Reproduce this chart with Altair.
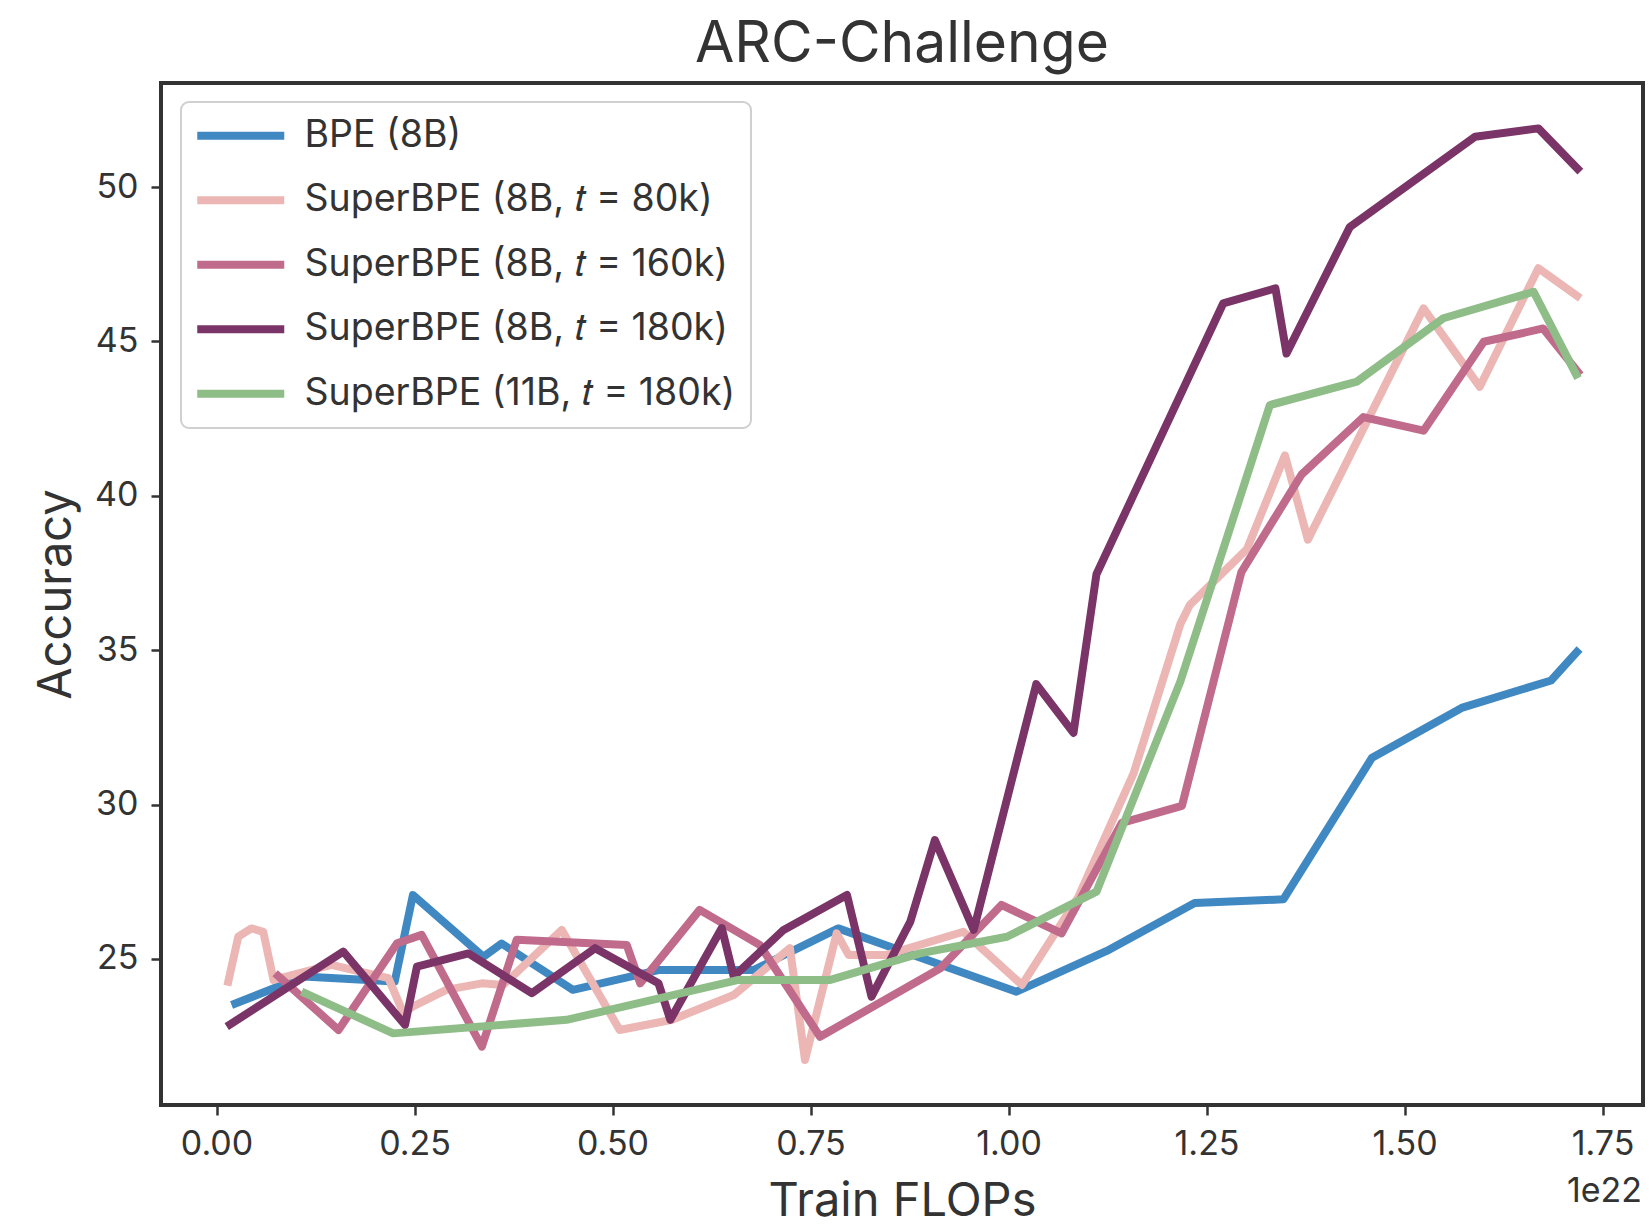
import altair as alt
import pandas as pd

series_names = [
    "BPE (8B)",
    "SuperBPE (8B, 𝑡 = 80k)",
    "SuperBPE (8B, 𝑡 = 160k)",
    "SuperBPE (8B, 𝑡 = 180k)",
    "SuperBPE (11B, 𝑡 = 180k)",
]
series_colors = ["#4088c2", "#ebb6b3", "#c06b8b", "#7a3467", "#8fbd88"]

bpe_x = [0.019, 0.11, 0.225, 0.248, 0.337, 0.36, 0.45, 0.558, 0.678, 0.785, 1.010, 1.124, 1.235, 1.347, 1.459, 1.572, 1.685, 1.721]
bpe_y = [23.51, 24.43, 24.27, 27.07, 25.07, 25.5, 24.0, 24.64, 24.64, 25.99, 23.94, 25.26, 26.81, 26.93, 31.52, 33.13, 34.02, 35.04]

sb80_x = [0.0137, 0.0275, 0.044, 0.059, 0.072, 0.145, 0.217, 0.236, 0.248, 0.29, 0.335, 0.362, 0.436, 0.509, 0.575, 0.653, 0.724, 0.743, 0.783, 0.798, 0.846, 0.943, 1.017, 1.088, 1.158, 1.217, 1.229, 1.301, 1.349, 1.378, 1.524, 1.595, 1.669, 1.722]
sb80_y = [24.14, 25.72, 25.99, 25.88, 24.32, 24.81, 24.38, 23.24, 23.46, 24.0, 24.21, 24.16, 25.94, 22.70, 23.03, 23.83, 25.35, 21.73, 25.83, 25.13, 25.13, 25.88, 24.16, 27.0, 31.02, 35.85, 36.47, 38.27, 41.31, 38.58, 46.07, 43.53, 47.37, 46.40]

sb160_x = [0.074, 0.154, 0.228, 0.259, 0.335, 0.379, 0.518, 0.535, 0.610, 0.686, 0.762, 0.914, 0.991, 1.067, 1.143, 1.219, 1.294, 1.370, 1.448, 1.524, 1.600, 1.675, 1.722]
sb160_y = [24.54, 22.70, 25.51, 25.78, 22.16, 25.62, 25.45, 24.21, 26.59, 25.45, 22.48, 24.70, 26.75, 25.83, 29.41, 29.96, 37.53, 40.69, 42.55, 42.11, 44.99, 45.42, 43.91]

sb180_x = [0.0129, 0.160, 0.238, 0.253, 0.318, 0.398, 0.478, 0.558, 0.573, 0.638, 0.653, 0.716, 0.796, 0.827, 0.876, 0.907, 0.956, 1.035, 1.082, 1.111, 1.271, 1.337, 1.351, 1.431, 1.589, 1.669, 1.722]
sb180_y = [22.81, 25.24, 22.86, 24.75, 25.18, 23.89, 25.35, 24.21, 23.03, 26.0, 24.43, 25.94, 27.07, 23.78, 26.21, 28.85, 25.94, 33.9, 32.32, 37.46, 46.23, 46.72, 44.61, 48.71, 51.63, 51.90, 50.50]

sb11_x = [0.1075, 0.223, 0.442, 0.659, 0.775, 0.888, 0.998, 1.111, 1.217, 1.330, 1.440, 1.549, 1.663, 1.719]
sb11_y = [23.94, 22.59, 23.03, 24.32, 24.32, 25.18, 25.72, 27.18, 33.99, 42.94, 43.70, 45.75, 46.61, 43.81]

x_ticks = [0.0, 0.25, 0.5, 0.75, 1.0, 1.25, 1.5, 1.75]
y_ticks = [25, 30, 35, 40, 45, 50]
title_text = ["ARC-Challenge"]
offset_label = ["1e22"]

rows = []
for name, xs, ys in zip(series_names,
                        [bpe_x, sb80_x, sb160_x, sb180_x, sb11_x],
                        [bpe_y, sb80_y, sb160_y, sb180_y, sb11_y]):
    for i, (xv, yv) in enumerate(zip(xs, ys)):
        rows.append({"flops": xv, "acc": yv, "series": name, "idx": i})
df = pd.DataFrame(rows)

FONT = "Inter"
TXT = "#333333"
W, H = 1482, 1022

lines = alt.Chart(df).mark_line(strokeWidth=8, strokeJoin="round", strokeCap="butt").encode(
    x=alt.X("flops:Q",
            scale=alt.Scale(domain=[-0.0701, 1.8011], nice=False, zero=False),
            axis=alt.Axis(values=x_ticks, format=".2f", title="Train FLOPs",
                          titleBaseline="alphabetic", titleY=110,
                          labelPadding=12, tickSize=10)),
    y=alt.Y("acc:Q",
            scale=alt.Scale(domain=[20.27, 53.37], nice=False, zero=False),
            axis=alt.Axis(values=y_ticks, format="d", title="Accuracy",
                          titleBaseline="alphabetic", titleX=-91, titleY=H / 2,
                          titleAngle=-90, labelPadding=13, tickSize=10)),
    color=alt.Color("series:N",
                    scale=alt.Scale(domain=series_names, range=series_colors),
                    sort=series_names,
                    legend=alt.Legend(orient="none", legendX=20, legendY=19, title=None,
                                      symbolType="M-3,0H3", symbolSize=841,
                                      symbolStrokeWidth=8, symbolOffset=26,
                                      labelOffset=45,
                                      labelFontSize=37.5, labelFont=FONT, labelColor=TXT,
                                      labelLimit=0, rowPadding=25.5, padding=15,
                                      fillColor="white", strokeColor="#d0d0d0",
                                      cornerRadius=8)),
    order=alt.Order("idx:Q"),
)

offset_text = alt.Chart(pd.DataFrame({"t": offset_label})).mark_text(
    align="right", baseline="alphabetic", fontSize=34, font=FONT, color=TXT
).encode(x=alt.value(W - 1), y=alt.value(H + 97), text="t:N")

title_mark = alt.Chart(pd.DataFrame({"t": title_text})).mark_text(
    align="center", baseline="alphabetic", fontSize=57, font=FONT, color=TXT
).encode(x=alt.value(W / 2), y=alt.value(-21), text="t:N")

chart = alt.layer(lines, offset_text, title_mark).properties(
    width=W, height=H,
    autosize=alt.AutoSizeParams(type="none"),
    padding={"left": 161, "top": 83, "right": 6, "bottom": 122},
).configure_view(
    stroke=TXT, strokeWidth=4
).configure_axis(
    grid=False, domain=False, labelFont=FONT, titleFont=FONT,
    labelFontSize=34, titleFontSize=47, titleFontWeight="normal",
    labelColor=TXT, titleColor=TXT, tickColor=TXT, tickWidth=2.5,
).configure_legend(
    strokeWidth=2
)

chart.save("out.html", embed_options={"renderer": "svg", "actions": False})
